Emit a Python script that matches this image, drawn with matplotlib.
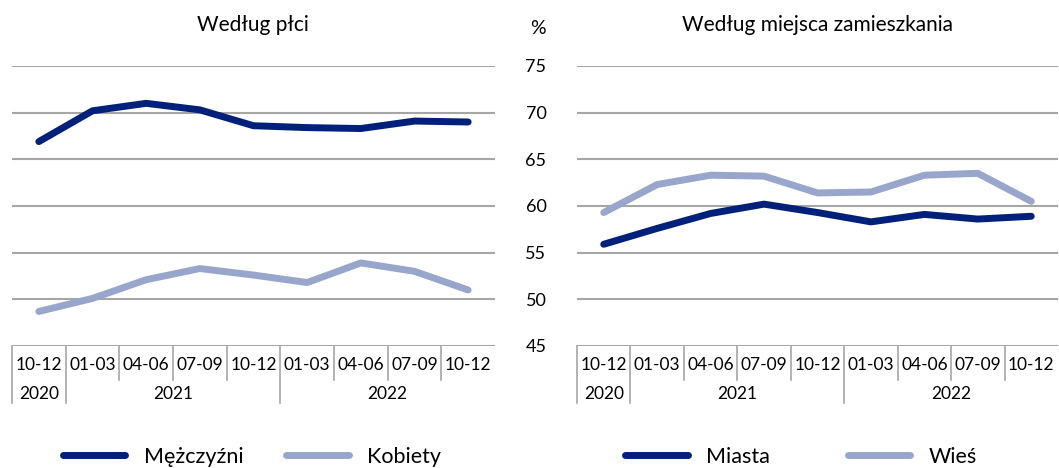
import matplotlib.pyplot as plt
from matplotlib.lines import Line2D

plt.rcParams['font.family'] = ['Lato', 'DejaVu Sans']

quarters = ['10-12', '01-03', '04-06', '07-09', '10-12', '01-03', '04-06', '07-09', '10-12']
years = ['2020', '2021', '2022']
year_spans = [(0, 0), (1, 4), (5, 8)]

mezczyzni = [66.9, 70.2, 71.0, 70.3, 68.6, 68.4, 68.3, 69.1, 69.0]
kobiety = [48.7, 50.1, 52.1, 53.3, 52.6, 51.8, 53.9, 53.0, 51.0]
miasta = [55.9, 57.6, 59.2, 60.2, 59.3, 58.3, 59.1, 58.6, 58.9]
wies = [59.3, 62.3, 63.3, 63.2, 61.4, 61.5, 63.3, 63.5, 60.5]

DARK = '#00207a'
LIGHT = '#98a6cb'
GRID = '#a6a6a6'
FS = 12.5
TITLE_FS = 15
LEG_FS = 15.5

W, H = 1059, 468
fig = plt.figure(figsize=(W / 100, H / 100), dpi=100)
ax1 = fig.add_axes([12 / W, 1 - 346 / H, 483 / W, 280 / H])
ax2 = fig.add_axes([577 / W, 1 - 346 / H, 481 / W, 280 / H])

x = list(range(len(quarters)))


def setup(ax, labels):
    ax.set_xlim(-0.5, len(quarters) - 0.5)
    ax.set_ylim(45, 75)
    ax.set_yticks(range(45, 80, 5))
    ax.yaxis.grid(True, color=GRID, lw=1.5)
    ax.set_axisbelow(True)
    for s in ax.spines.values():
        s.set_visible(False)
    ax.set_xticks([])
    ax.tick_params(axis='y', length=0, pad=22, labelsize=FS + 0.5)
    if not labels:
        ax.set_yticklabels([])
    tr = ax.get_xaxis_transform()
    for i, q in enumerate(quarters):
        ax.text(i, -0.068, q, transform=tr, ha='center', va='center', fontsize=FS)
    starts = [s for s, e in year_spans]
    for i in range(len(quarters)):
        bottom = -0.204 if i in starts else -0.121
        ax.plot([i - 0.5, i - 0.5], [0, bottom], transform=tr, color=GRID,
                lw=1.2, clip_on=False)
    for (s, e), y in zip(year_spans, years):
        ax.text((s + e) / 2, -0.171, y, transform=tr, ha='center', va='center', fontsize=FS)


setup(ax1, False)
setup(ax2, True)

kw = dict(lw=5, solid_capstyle='round', solid_joinstyle='round', clip_on=False)
ax1.plot(x, mezczyzni, color=DARK, **kw)
ax1.plot(x, kobiety, color=LIGHT, **kw)
ax2.plot(x, miasta, color=DARK, **kw)
ax2.plot(x, wies, color=LIGHT, **kw)

fig.text(253 / W, 1 - 25 / H, 'Według płci', ha='center', va='center', fontsize=TITLE_FS)
fig.text(818 / W, 1 - 25 / H, 'Według miejsca zamieszkania', ha='center', va='center', fontsize=TITLE_FS)
fig.text(538 / W, 1 - 28 / H, '%', ha='center', va='center', fontsize=TITLE_FS - 1)


def handle(c):
    return Line2D([], [], color=c, lw=5, solid_capstyle='round')


lkw = dict(loc='center', ncol=2, frameon=False, fontsize=LEG_FS, handlelength=2.9,
           handletextpad=0.85)
fig.legend([handle(DARK), handle(LIGHT)], ['Mężczyźni', 'Kobiety'],
           bbox_to_anchor=(252 / W, 1 - 457 / H), columnspacing=2.0, **lkw)
fig.legend([handle(DARK), handle(LIGHT)], ['Miasta', 'Wieś'],
           bbox_to_anchor=(801 / W, 1 - 457 / H), columnspacing=3.6, **lkw)

fig.savefig('out.png', dpi=100)
